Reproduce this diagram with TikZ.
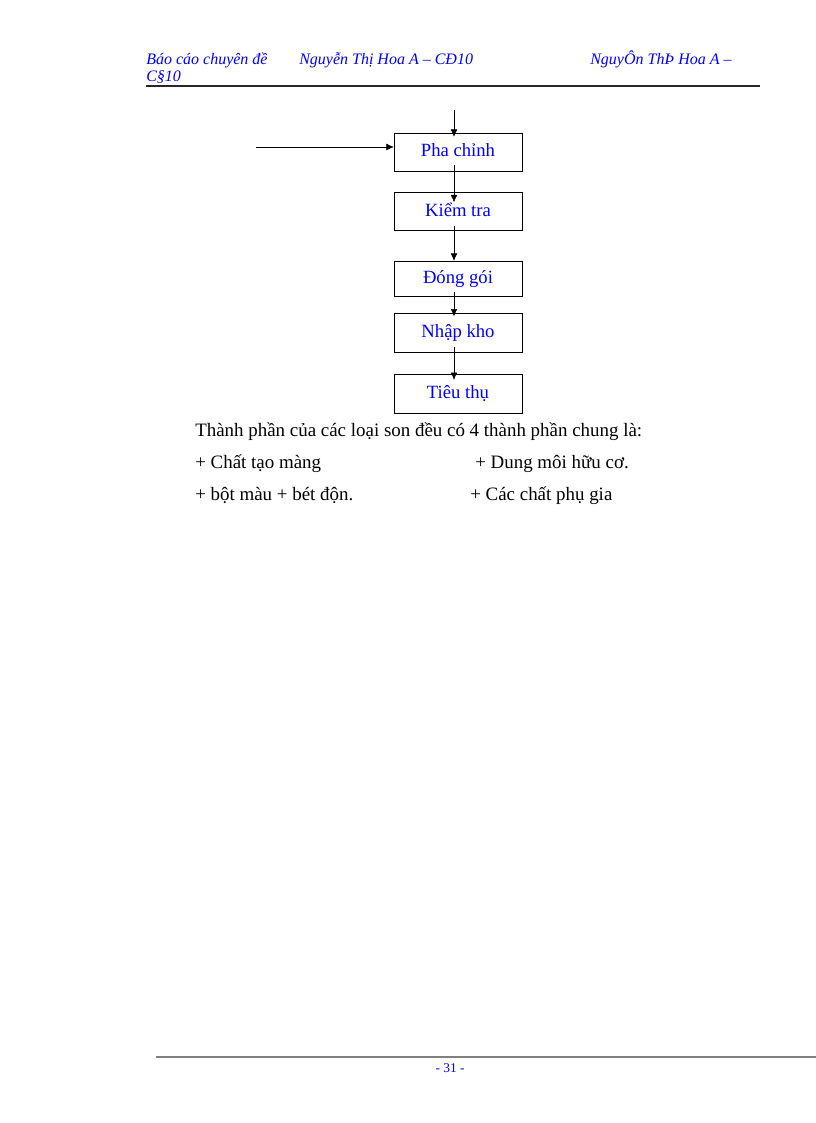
\documentclass[tikz,border=0pt]{standalone}
\usepackage{fontspec}
\setmainfont{Liberation Serif}
\usetikzlibrary{positioning,arrows.meta}
\begin{document}
\begin{tikzpicture}[x=0.75pt, y=-0.75pt, node distance=15.75pt, thin,
    main/.style = {draw, rectangle, minimum width=96pt, minimum height=28.5pt, inner sep=0pt, text=blue, font=\fontsize{14}{16}\selectfont},
    head/.style = {anchor=base west, inner sep=0pt, text=blue, font=\itshape\fontsize{12}{14}\selectfont},
    body/.style = {anchor=base west, inner sep=0pt, font=\fontsize{14.2}{16}\selectfont},
    arr/.style = {-{Latex[length=5.5pt,width=5pt]}}]
    \useasboundingbox (0,0) rectangle (816,1123);
    % header
    \node[head] (h1) at (146,65) {Báo cáo chuyên đề};
    \node[head] (h2) at (299,65) {Nguyễn Thị Hoa A – CĐ10};
    \node[head] (h3) at (590,65) {NguyÔn ThÞ Hoa A –};
    \node[head] (h4) at (146,82) {C§10};
    \draw[line width=0.9pt, black!85] (146,86) -- (760,86);
    % flow
    \node[main] (pha) at (458,152) {\raisebox{2.5pt}{Pha chỉnh}};
    \node[main] (kiem) [below=15.75pt of pha] {\raisebox{2.5pt}{Kiểm tra}};
    \node[main, minimum height=26.25pt] (dong) [below=22.5pt of kiem] {\raisebox{2pt}{Đóng gói}};
    \node[main, minimum height=29.25pt] (nhap) [below=12.75pt of dong] {\raisebox{2.5pt}{Nhập kho}};
    \node[main, minimum height=29.25pt] (tieu) [below=15.75pt of nhap] {\raisebox{2pt}{Tiêu thụ}};
    \coordinate (top) at (454,110);
    \coordinate (left) at (256,147);
    \draw[arr] (top) -- ([xshift=-3pt,yshift=-3pt]pha.north);
    \draw[arr] (left) -- (left -| pha.west);
    \draw[arr] ([xshift=-3pt,yshift=4.5pt]pha.south) -- ([xshift=-3pt,yshift=-7.5pt]kiem.north);
    \draw[arr] ([xshift=-3pt,yshift=3.75pt]kiem.south) -- ([xshift=-3pt]dong.north);
    \draw[arr] ([xshift=-3pt,yshift=3pt]dong.south) -- ([xshift=-3pt,yshift=-2.25pt]nhap.north);
    \draw[arr] ([xshift=-3pt,yshift=4.5pt]nhap.south) -- ([xshift=-3pt,yshift=-4.5pt]tieu.north);
    % text
    \node[body] (t1) at (195,436) {Thành phần của các loại  son đều có 4 thành phần chung là:};
    \node[body] (t2) at (195,468) {+ Chất tạo màng};
    \node[body] (t3) at (475,468) {+ Dung môi hữu cơ.};
    \node[body] (t4) at (195,500) {+ bột màu + bét độn.};
    \node[body] (t5) at (470,500) {+ Các chất phụ gia};
    % footer
    \draw[line width=1pt, gray] (156,1057) -- (816,1057);
    \node[anchor=base, inner sep=0pt, text=blue, font=\fontsize{10}{12}\selectfont] (pg) at (450,1072) {- 31 -};
\end{tikzpicture}
\end{document}
